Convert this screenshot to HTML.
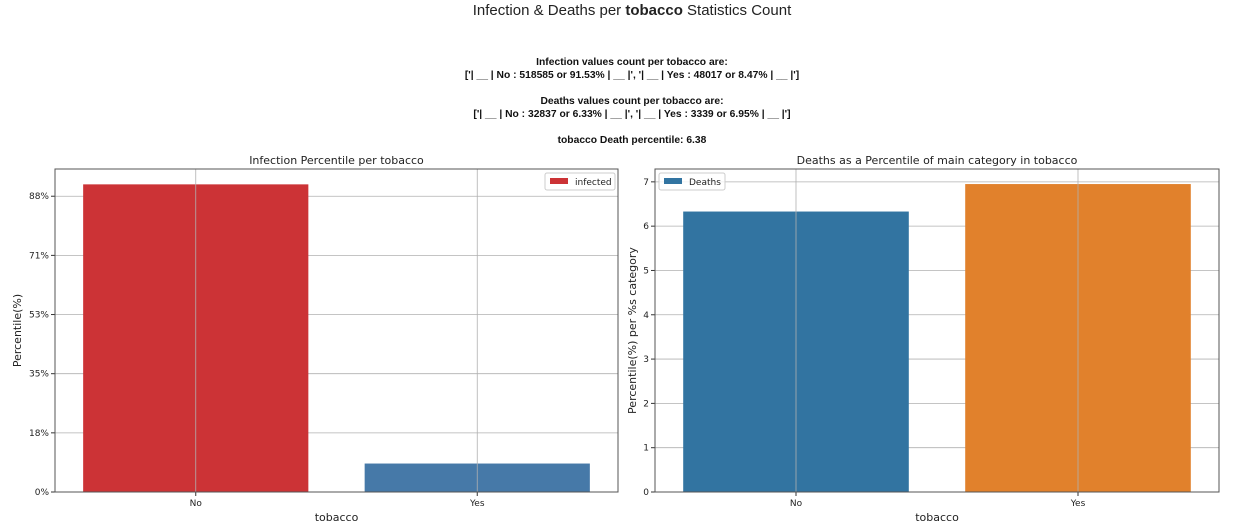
<!DOCTYPE html>
<html><head><meta charset="utf-8"><style>
html,body{margin:0;padding:0;background:#fff;width:1252px;height:529px;overflow:hidden}
svg{display:block;font-family:"DejaVu Sans","Liberation Sans",sans-serif}
</style></head><body>
<svg id="chart" width="1252" height="529">
<g>
<text x="632" y="15" text-anchor="middle" font-family="Liberation Sans, sans-serif" font-size="15" fill="#222">Infection &amp; Deaths per <tspan font-weight="bold">tobacco</tspan> Statistics Count</text>
</g>
<g font-family="Liberation Sans, sans-serif" font-size="10.3" font-weight="bold" fill="#111" text-anchor="middle">
<text x="632" y="65">Infection values count per tobacco are:</text>
<text x="632" y="78">['| __ | No : 518585 or 91.53% | __ |', '| __ | Yes : 48017 or 8.47% | __ |']</text>
<text x="632" y="104">Deaths values count per tobacco are:</text>
<text x="632" y="117">['| __ | No : 32837 or 6.33% | __ |', '| __ | Yes : 3339 or 6.95% | __ |']</text>
<text x="632" y="143">tobacco Death percentile: 6.38</text>
</g>
<g id="left"></g>
<g id="right"></g>
</svg>
<script>
const categories = ["No", "Yes"];
const infectedValues = [91.53, 8.47];
const infectedTicks = [0, 17.6, 35.2, 52.8, 70.4, 88];
const infectedTickLabels = ["0%", "18%", "35%", "53%", "71%", "88%"];
const deathValues = [6.33, 6.95];
const deathTicks = [0, 1, 2, 3, 4, 5, 6, 7];
const NS = "http://www.w3.org/2000/svg";
function mk(parent, tag, attrs, text) {
  const e = document.createElementNS(NS, tag);
  for (const k in attrs) e.setAttribute(k, attrs[k]);
  if (text !== undefined) e.textContent = text;
  parent.appendChild(e);
  return e;
}
function drawChart(g, cfg) {
  const x0 = cfg.x0, x1 = cfg.x1, y0 = 169, y1 = 492;
  const n = categories.length;
  const band = (x1 - x0) / n;
  const xc = i => x0 + band * (i + 0.5);
  const ys = v => y1 - (v / cfg.ymax) * (y1 - y0);
  cfg.ticks.forEach((t, i) => {
    const l = mk(g, "line", {x1: x0, x2: x1, y1: ys(t), y2: ys(t), stroke: "#b0b0b0", "stroke-width": 0.8});
    
    
  });
  cfg.values.forEach((v, i) => {
    const r = mk(g, "rect", {x: xc(i) - band * 0.4, width: band * 0.8, y: ys(v), height: y1 - ys(v), fill: cfg.colors[i]});
    
    
  });
  categories.forEach((c, i) => {
    const l = mk(g, "line", {x1: xc(i), x2: xc(i), y1: y0, y2: y1, stroke: "#b0b0b0", "stroke-width": 0.8});
    
    
    mk(g, "line", {x1: xc(i), x2: xc(i), y1: y1, y2: y1 + 4, stroke: "#333"});
    const t = mk(g, "text", {x: xc(i), y: y1 + 14, "text-anchor": "middle", "font-size": 9, fill: "#222"}, c);
    
    
  });
  cfg.ticks.forEach((tv, i) => {
    mk(g, "line", {x1: x0 - 4, x2: x0, y1: ys(tv), y2: ys(tv), stroke: "#333"});
    const t = mk(g, "text", {x: x0 - 6, y: ys(tv) + 3, "text-anchor": "end", "font-size": 9, fill: "#222"}, cfg.labels[i]);
    
    
  });
  const f = mk(g, "rect", {x: x0, y: y0, width: x1 - x0, height: y1 - y0, fill: "none", stroke: "#555", "stroke-width": 1});
  
  
  const ti = mk(g, "text", {x: (x0 + x1) / 2, y: 164, "text-anchor": "middle", "font-size": 11, fill: "#222"}, cfg.title);
  
  
  const xt = mk(g, "text", {x: (x0 + x1) / 2, y: 521, "text-anchor": "middle", "font-size": 11, fill: "#222"}, "tobacco");
  
  
  const yt = mk(g, "text", {x: 0, y: 0, transform: "translate(" + cfg.ytx + "," + ((y0 + y1) / 2) + ") rotate(-90)", "text-anchor": "middle", "font-size": 11, fill: "#222"}, cfg.ytitle);
  
  
  const lg = mk(g, "g", {});
  
  
  mk(lg, "rect", {x: cfg.lx, y: 173, width: cfg.lw, height: 17, rx: 2, fill: "#fff", "fill-opacity": 0.8, stroke: "#ccc"});
  mk(lg, "rect", {x: cfg.lx + 5, y: 178, width: 18, height: 6, fill: cfg.colors[0]});
  mk(lg, "text", {x: cfg.lx + 30, y: 185, "font-size": 9, fill: "#222"}, cfg.legend);
}
drawChart(document.getElementById("left"), {x0: 55, x1: 618, ymax: 96.1, values: infectedValues, ticks: infectedTicks, labels: infectedTickLabels, colors: ["#cc3336", "#4679a8"], title: "Infection Percentile per tobacco", ytitle: "Percentile(%)", ytx: 21, lx: 545, lw: 70, legend: "infected"});
drawChart(document.getElementById("right"), {x0: 655, x1: 1219, ymax: 7.29, values: deathValues, ticks: deathTicks, labels: deathTicks.map(String), colors: ["#3274a1", "#e1812c"], title: "Deaths as a Percentile of main category in tobacco", ytitle: "Percentile(%) per %s category", ytx: 636, lx: 659, lw: 66, legend: "Deaths"});
</script>
</body></html>
